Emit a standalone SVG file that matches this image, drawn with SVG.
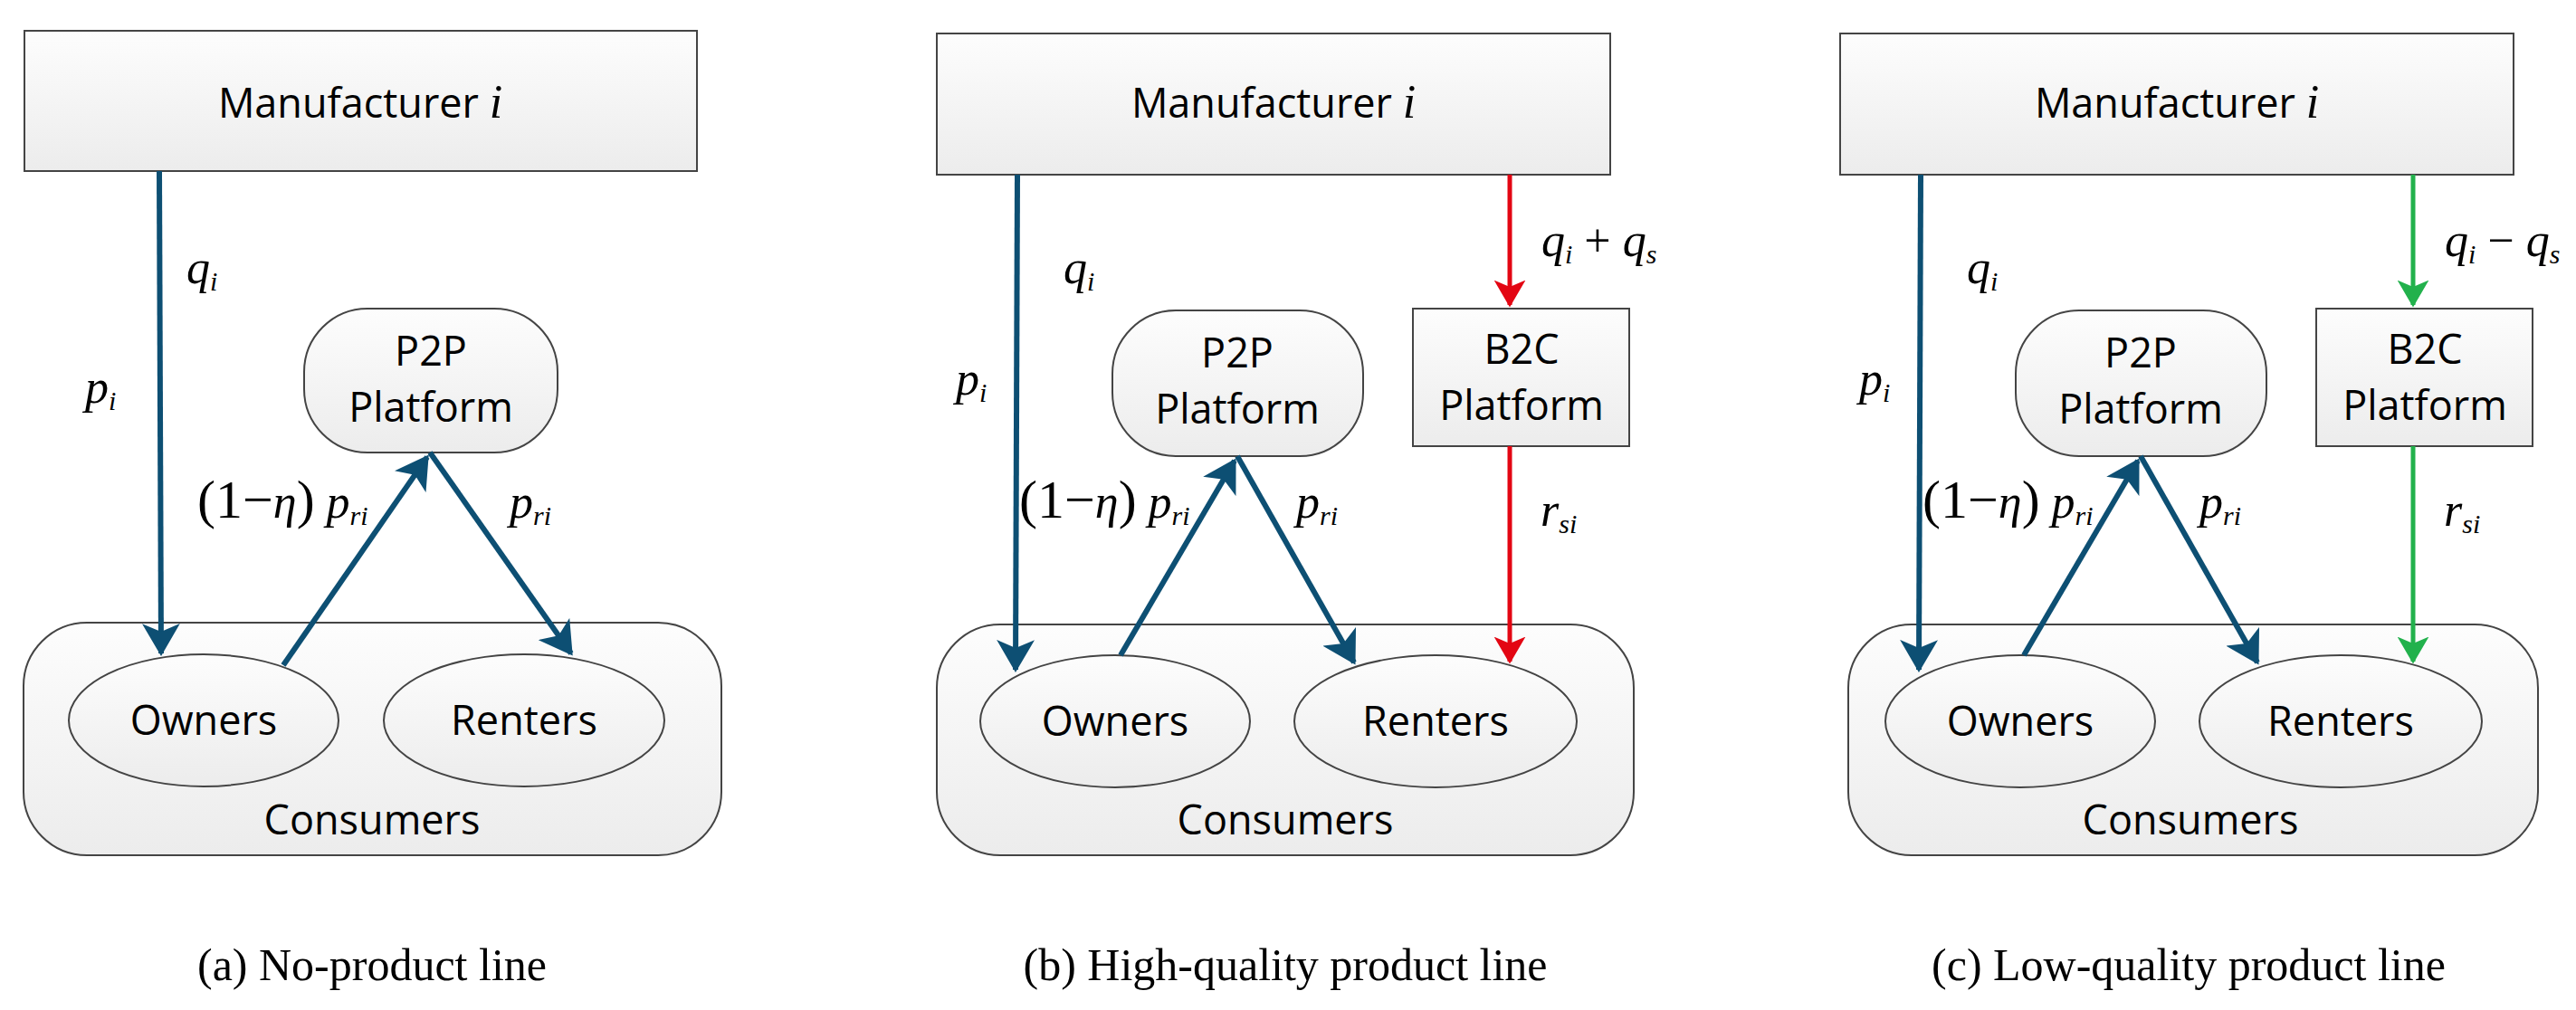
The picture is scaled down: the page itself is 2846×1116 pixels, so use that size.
<svg xmlns="http://www.w3.org/2000/svg" width="2846" height="1116" viewBox="0 0 2846 1116">
<defs>
<linearGradient id="g" x1="0" y1="0" x2="0" y2="1"><stop offset="0" stop-color="#fdfdfd"/><stop offset="1" stop-color="#ececec"/></linearGradient>
<marker id="mb" markerWidth="7" markerHeight="7" refX="5.5" refY="3.5" orient="auto" markerUnits="strokeWidth"><path d="M0,0 L6,3.5 L0,7 L1.5,3.5 Z" fill="#0d4f73"/></marker>
<marker id="mr" markerWidth="7" markerHeight="7" refX="5.5" refY="3.5" orient="auto" markerUnits="strokeWidth"><path d="M0,0 L6,3.5 L0,7 L1.5,3.5 Z" fill="#e30613"/></marker>
<marker id="mg" markerWidth="7" markerHeight="7" refX="5.5" refY="3.5" orient="auto" markerUnits="strokeWidth"><path d="M0,0 L6,3.5 L0,7 L1.5,3.5 Z" fill="#22b14c"/></marker>
</defs>
<style>
.box{fill:url(#g);stroke:#444;stroke-width:2}
.t{font-family:"Open Sans","DejaVu Sans",sans-serif;font-size:45px;fill:#000;text-anchor:middle}
.m{font-family:"Liberation Serif",serif;font-style:italic;font-size:52px;fill:#000}
.n{font-style:normal}
.cap{font-family:"Liberation Serif",serif;font-size:50px;fill:#000;text-anchor:middle}
.b{stroke:#0d4f73;stroke-width:6;fill:none;marker-end:url(#mb)}
.r{stroke:#e30613;stroke-width:5;fill:none;marker-end:url(#mr)}
.gr{stroke:#22b14c;stroke-width:5;fill:none;marker-end:url(#mg)}
</style>
<rect width="2846" height="1116" fill="#fff"/>

<!-- Panel a -->
<g id="a-manufacturer"><rect class="box" x="27" y="34" width="743" height="155"/><text class="t" x="398" y="130">Manufacturer <tspan class="m">i</tspan></text></g>
<g id="a-p2p"><rect class="box" x="336" y="341" width="280" height="159" rx="70"/><text class="t" x="476" y="404">P2P</text><text class="t" x="476" y="466">Platform</text></g>
<g id="a-consumers"><rect class="box" x="26" y="688" width="771" height="257" rx="70"/><text class="t" x="411" y="922">Consumers</text></g>
<g id="a-owners"><ellipse class="box" cx="225" cy="796" rx="149" ry="73"/><text class="t" x="225" y="812">Owners</text></g>
<g id="a-renters"><ellipse class="box" cx="579" cy="796" rx="155" ry="73"/><text class="t" x="579" y="812">Renters</text></g>
<g id="a-connectors">
<line class="b" x1="176" y1="189" x2="178" y2="722"/>
<line class="b" x1="313" y1="735" x2="472" y2="505"/>
<line class="b" x1="475" y1="500" x2="631" y2="722"/>
</g>
<g id="a-labels">
<text class="m" x="206" y="313">q<tspan font-size="30" dy="8">i</tspan></text>
<text class="m" x="94" y="445">p<tspan font-size="30" dy="8">i</tspan></text>
<text class="m" x="218" y="572"><tspan class="n" font-size="60">(1−</tspan>η<tspan class="n" font-size="60">)</tspan> p<tspan font-size="30" dy="8">ri</tspan></text>
<text class="m" x="563" y="572">p<tspan font-size="30" dy="8">ri</tspan></text>
<text class="cap" x="411" y="1083">(a) No-product line</text>
</g>

<!-- Panel b -->
<g id="b-manufacturer"><rect class="box" x="1035" y="37" width="744" height="156"/><text class="t" x="1407" y="130">Manufacturer <tspan class="m">i</tspan></text></g>
<g id="b-p2p"><rect class="box" x="1229" y="343" width="277" height="161" rx="70"/><text class="t" x="1367" y="406">P2P</text><text class="t" x="1367" y="468">Platform</text></g>
<g id="b-b2c"><rect class="box" x="1561" y="341" width="239" height="152"/><text class="t" x="1681" y="402">B2C</text><text class="t" x="1681" y="464">Platform</text></g>
<g id="b-consumers"><rect class="box" x="1035" y="690" width="770" height="255" rx="70"/><text class="t" x="1420" y="922">Consumers</text></g>
<g id="b-owners"><ellipse class="box" cx="1232" cy="797" rx="149" ry="73"/><text class="t" x="1232" y="813">Owners</text></g>
<g id="b-renters"><ellipse class="box" cx="1586" cy="797" rx="156" ry="73"/><text class="t" x="1586" y="813">Renters</text></g>
<g id="b-connectors">
<line class="b" x1="1124" y1="193" x2="1122" y2="740"/>
<line class="b" x1="1238" y1="724" x2="1364" y2="509"/>
<line class="b" x1="1367" y1="504" x2="1496" y2="732"/>
<line class="r" x1="1668" y1="193" x2="1668" y2="337"/>
<line class="r" x1="1668" y1="493" x2="1668" y2="731"/>
</g>
<g id="b-labels">
<text class="m" x="1175" y="313">q<tspan font-size="30" dy="8">i</tspan></text>
<text class="m" x="1056" y="436">p<tspan font-size="30" dy="8">i</tspan></text>
<text class="m" x="1126" y="572"><tspan class="n" font-size="60">(1−</tspan>η<tspan class="n" font-size="60">)</tspan> p<tspan font-size="30" dy="8">ri</tspan></text>
<text class="m" x="1432" y="572">p<tspan font-size="30" dy="8">ri</tspan></text>
<text class="m" x="1703" y="283">q<tspan font-size="30" dy="8">i</tspan><tspan class="n" dy="-8"> + </tspan>q<tspan font-size="30" dy="8">s</tspan></text>
<text class="m" x="1702" y="581">r<tspan font-size="30" dy="8">si</tspan></text>
<text class="cap" x="1420" y="1083">(b) High-quality product line</text>
</g>

<!-- Panel c -->
<g id="c-manufacturer"><rect class="box" x="2033" y="37" width="744" height="156"/><text class="t" x="2405" y="130">Manufacturer <tspan class="m">i</tspan></text></g>
<g id="c-p2p"><rect class="box" x="2227" y="343" width="277" height="161" rx="70"/><text class="t" x="2365" y="406">P2P</text><text class="t" x="2365" y="468">Platform</text></g>
<g id="c-b2c"><rect class="box" x="2559" y="341" width="239" height="152"/><text class="t" x="2679" y="402">B2C</text><text class="t" x="2679" y="464">Platform</text></g>
<g id="c-consumers"><rect class="box" x="2042" y="690" width="762" height="255" rx="70"/><text class="t" x="2420" y="922">Consumers</text></g>
<g id="c-owners"><ellipse class="box" cx="2232" cy="797" rx="149" ry="73"/><text class="t" x="2232" y="813">Owners</text></g>
<g id="c-renters"><ellipse class="box" cx="2586" cy="797" rx="156" ry="73"/><text class="t" x="2586" y="813">Renters</text></g>
<g id="c-connectors">
<line class="b" x1="2122" y1="193" x2="2120" y2="740"/>
<line class="b" x1="2236" y1="724" x2="2362" y2="509"/>
<line class="b" x1="2365" y1="504" x2="2494" y2="732"/>
<line class="gr" x1="2666" y1="193" x2="2666" y2="337"/>
<line class="gr" x1="2666" y1="493" x2="2666" y2="731"/>
</g>
<g id="c-labels">
<text class="m" x="2173" y="313">q<tspan font-size="30" dy="8">i</tspan></text>
<text class="m" x="2054" y="436">p<tspan font-size="30" dy="8">i</tspan></text>
<text class="m" x="2124" y="572"><tspan class="n" font-size="60">(1−</tspan>η<tspan class="n" font-size="60">)</tspan> p<tspan font-size="30" dy="8">ri</tspan></text>
<text class="m" x="2430" y="572">p<tspan font-size="30" dy="8">ri</tspan></text>
<text class="m" x="2701" y="283">q<tspan font-size="30" dy="8">i</tspan><tspan class="n" dy="-8"> − </tspan>q<tspan font-size="30" dy="8">s</tspan></text>
<text class="m" x="2700" y="581">r<tspan font-size="30" dy="8">si</tspan></text>
<text class="cap" x="2418" y="1083">(c) Low-quality product line</text>
</g>
</svg>
